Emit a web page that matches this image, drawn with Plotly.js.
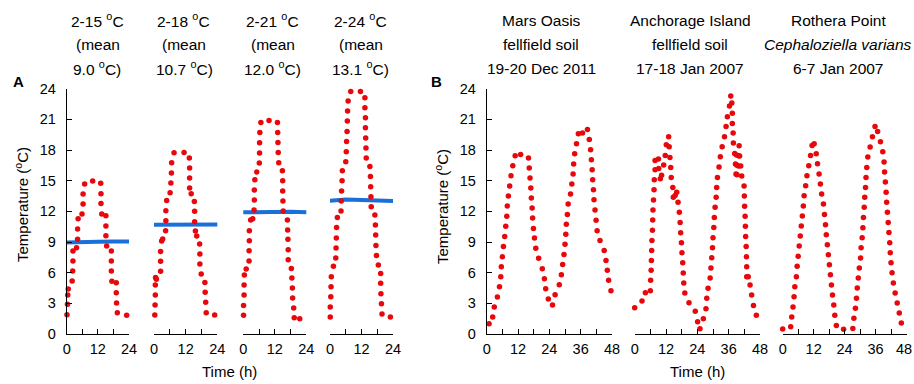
<!DOCTYPE html>
<html>
<head>
<meta charset="utf-8">
<script src="https://cdn.plot.ly/plotly-3.0.1.min.js"></script>
<style>html,body{margin:0;padding:0;background:#fff;}#chart{width:914px;height:384px;}</style>
</head>
<body>
<div id="chart"></div>
<script>
// ---------- Data (hours, temperature °C) ----------
const A1_h = [0.1,0.3,0.4,0.6,2.1,2.3,2.4,2.4,3.8,4.2,4.2,4.4,5.9,6.3,6.3,6.9,10.0,13.1,13.2,13.2,13.5,15.1,15.1,15.1,15.4,17.2,17.2,17.2,17.4,19.1,19.1,19.2,19.5,23.1];
const A1_t = [1.89,2.9,3.81,4.4,5.18,6.16,7.14,8.12,8.44,9.26,10.27,11.28,11.74,12.71,13.69,14.67,14.96,14.74,13.73,12.78,11.74,11.57,10.56,9.62,8.6,8.12,7.14,6.16,5.15,5.02,4.04,3.03,2.09,1.83];

const A2_h = [0.3,0.4,0.5,0.5,0.6,0.9,2.5,2.5,2.5,2.9,3.3,4.4,4.5,4.5,4.8,6.1,6.4,6.6,6.7,7.6,11.4,13.4,13.5,13.5,13.5,14.1,15.3,15.4,15.4,15.7,16.2,17.3,17.4,17.4,17.9,19.3,19.4,19.6,19.8,23.0];
const A2_t = [1.86,2.84,3.81,4.79,5.54,5.35,6.13,7.11,8.08,9.1,9.29,10.11,11.08,12.06,13.07,13.82,14.77,15.75,16.76,17.73,17.77,17.21,16.23,15.26,14.28,13.72,12.97,12.0,10.99,10.07,9.58,8.8,7.82,6.85,5.87,5.05,4.08,3.1,2.09,1.86];

const A3_h = [0.1,0.1,0.3,0.3,0.4,1.1,2.2,2.2,2.3,2.3,2.8,3.6,4.1,4.2,4.2,4.4,5.1,6.1,6.2,6.2,6.3,6.7,9.8,13.0,13.1,13.2,13.3,13.5,14.9,15.0,15.0,15.1,15.2,16.8,16.9,17.0,17.1,17.1,18.3,18.5,18.7,18.8,19.2,19.4,21.5];
const A3_t = [1.83,2.8,3.81,4.79,5.77,6.36,7.14,8.15,9.13,10.11,11.15,11.28,12.13,13.1,14.08,15.09,15.84,16.72,17.7,18.71,19.72,20.7,20.9,20.7,19.72,18.74,17.77,16.76,15.97,15.0,13.99,13.01,12.03,11.15,10.17,9.26,8.25,7.27,6.42,5.48,4.5,3.52,2.54,1.6,1.5];

const A4_h = [0.1,0.1,0.3,0.4,0.5,1.3,2.2,2.3,2.4,2.5,2.8,4.2,4.3,4.4,4.6,4.7,6.0,6.2,6.3,6.5,6.6,6.7,6.9,7.9,11.6,13.3,13.3,13.5,13.5,13.6,13.7,13.8,15.2,15.4,15.5,15.6,15.7,17.1,17.3,17.4,17.5,17.7,18.4,19.3,19.3,19.4,19.6,19.8,23.0];
const A4_t = [1.66,2.64,3.65,4.63,5.61,6.62,7.43,8.41,9.39,10.43,11.41,12.03,13.01,13.99,15.0,15.97,16.85,17.83,18.84,19.82,20.83,21.81,22.79,23.73,23.73,23.11,22.14,21.16,20.18,19.17,18.19,17.21,16.4,15.42,14.41,13.43,12.45,11.64,10.66,9.68,8.67,7.69,6.75,5.93,4.96,3.94,2.97,1.96,1.66];

// mean lines
const MEAN_h = [-0.3,6,12,18,24.5];
const A1_mean = [8.95,8.95,9.02,9.05,9.05];
const A2_mean = [10.7,10.72,10.74,10.73,10.72];
const A3_mean = [11.9,11.94,11.98,11.95,11.9];
const A4_mean = [13.02,13.15,13.1,13.05,13.0];

const B1_h = [0.9,2.3,2.9,4.1,4.9,5.4,5.6,6.0,6.4,6.9,7.3,7.7,7.9,8.3,8.8,9.3,10.0,10.9,13.0,16.0,16.3,16.6,16.9,17.1,17.4,17.6,17.9,18.3,18.8,19.9,21.3,22.1,22.6,23.6,25.2,26.2,27.8,28.6,29.1,29.6,30.0,30.3,30.5,30.9,31.2,32.1,32.6,33.1,33.3,33.7,34.4,35.1,36.7,38.6,39.3,39.8,40.1,40.4,40.6,40.9,41.1,41.5,41.9,42.3,43.4,45.0,45.7,46.2,46.7,47.6];
const B1_t = [1.01,1.66,2.64,3.62,4.63,5.61,6.59,7.56,8.57,9.55,10.53,11.51,12.52,13.5,14.47,15.49,16.46,17.44,17.57,17.21,16.23,15.26,14.28,13.3,12.32,11.34,10.33,9.39,8.38,7.4,6.39,5.41,4.43,3.42,2.84,3.85,4.82,5.8,6.81,7.79,8.77,9.75,10.73,11.7,12.71,13.69,14.67,15.65,16.63,17.64,18.61,19.59,19.66,20.02,19.04,18.03,17.05,16.07,15.09,14.12,13.14,12.13,11.12,10.11,9.16,8.18,7.2,6.23,5.25,4.24];

const B2_h = [0,2.8,4.1,6.0,6.1,6.3,6.4,6.5,6.6,6.8,
  6.9,7.0,7.2,7.4,7.5,7.8,7.8,9.1,9.2,9.8,
  10.3,11.1,11.7,12.1,13.0,13.2,13.5,13.8,14.0,14.6,
  14.8,15.5,16.1,16.6,17.1,17.4,17.6,17.9,18.1,18.4,
  18.6,18.8,19.2,20.8,23.2,24.1,25.0,26.3,27.3,27.6,
  28.1,28.9,29.2,29.5,29.8,30.0,30.3,30.5,30.8,31.2,
  31.4,31.7,32.3,32.8,33.5,34.4,35.0,35.5,36.3,36.8,
  37.2,37.4,37.4,37.7,37.8,38.3,39.0,40.0,39.8,40.2,
  38.6,39.2,39.7,40.6,38.8,39.2,41.0,41.9,42.0,42.1,
  42.3,42.4,42.5,42.7,42.8,42.9,42.9,43.5,44.2,44.8,
  45.5,46.6];
const B2_t = [2.58,3.23,4.04,4.24,5.25,6.23,7.2,8.18,9.16,10.14,
  11.15,12.13,13.1,14.12,15.09,16.07,16.98,17.11,16.2,15.19,
  15.52,16.53,17.47,18.52,19.3,18.32,17.28,16.3,15.32,14.34,
  13.37,13.56,13.86,12.88,11.9,10.92,9.91,8.93,7.95,6.98,
  5.97,4.99,4.01,3.06,2.22,1.21,0.52,1.5,2.48,3.49,
  4.47,5.48,6.45,7.47,8.44,9.42,10.43,11.41,12.39,13.37,
  14.34,15.32,16.33,17.34,18.32,19.3,20.31,21.26,22.3,23.28,
  22.59,21.61,20.6,19.66,18.68,17.67,17.51,18.42,17.44,17.41,
  16.63,16.5,16.43,16.43,15.65,15.58,15.45,14.47,13.5,12.49,
  11.51,10.53,9.55,8.57,7.56,6.59,5.61,5.61,4.79,3.81,
  2.8,1.83];

const B3_h = [0,3.1,3.5,4.0,4.4,4.7,5.3,5.6,6.0,6.4,
  6.8,7.2,7.6,8.0,8.3,8.9,9.4,10.1,10.8,11.4,
  12.2,13.0,13.5,14.1,14.6,15.1,15.8,16.2,16.6,16.9,
  17.3,17.7,18.1,18.5,18.9,19.3,19.8,20.2,20.8,23.6,
  27.2,27.6,28.2,28.6,28.9,29.3,29.7,30.2,30.4,30.8,
  31.1,31.3,31.6,31.8,32.1,32.3,32.6,33.0,33.9,34.8,
  35.8,36.8,37.9,38.8,39.3,39.5,39.8,40.1,40.3,40.6,
  40.9,41.2,41.5,41.7,42.0,42.4,42.9,43.6,44.4,45.2,
  46.0];
const B3_t = [0.49,0.72,1.66,2.64,3.65,4.63,5.61,6.62,7.6,8.61,
  9.58,10.56,11.54,12.52,13.53,14.51,15.49,16.46,17.47,18.45,
  18.61,17.64,16.66,15.65,14.67,13.69,12.71,11.7,10.69,9.71,
  8.74,7.76,6.78,5.8,4.79,3.81,2.84,1.83,0.82,0.46,
  0.55,1.53,2.51,3.49,4.5,5.48,6.45,7.43,8.44,9.42,
  10.4,11.41,12.39,13.37,14.34,15.32,16.3,17.31,18.29,19.3,
  20.31,19.82,18.81,17.83,16.82,15.84,14.87,13.86,12.88,11.9,
  10.92,9.94,8.93,7.95,6.98,6.0,4.99,4.01,3.03,2.05,
  1.08];

const Y_TICKS = [0,3,6,9,12,15,18,21,24];
const X24_MAJOR = [0,12,24];
const X24_MINOR = [6,18];
const X48_MAJOR = [0,12,24,36,48];
const X48_MINOR = [6,18,30,42];
// last panel: its final label "48" sits at the page edge, drawn right-aligned separately
const X48_MAJOR_LAST = [0,12,24,36];
const X48_MINOR_LAST = [6,18,30,42,48];
const LAST_LABEL = '48';

const TITLES_A = [
  ['2-15 <sup>o</sup>C','(mean','9.0 <sup>o</sup>C)'],
  ['2-18 <sup>o</sup>C','(mean','10.7 <sup>o</sup>C)'],
  ['2-21 <sup>o</sup>C','(mean','12.0 <sup>o</sup>C)'],
  ['2-24 <sup>o</sup>C','(mean','13.1 <sup>o</sup>C)']
];
const TITLES_B = [
  ['Mars Oasis','fellfield soil','19-20 Dec 2011'],
  ['Anchorage Island','fellfield soil','17-18 Jan 2007'],
  ['Rothera Point','<i>Cephaloziella varians</i>','6-7 Jan 2007']
];

// ---------- Layout geometry (pixels) ----------
const W = 914, H = 384;
const FONT = 'Liberation Sans, Arial, sans-serif';
const PX = [[66.7,129],[154,217.3],[243.3,306.3],[330,393],[486.7,612],[634.7,760],[782.7,906.5]];
const YB = 334, YT = 88.7;
const ydom = [(H-YB)/H, (H-YT)/H];
const RED = '#e8070b', BLUE = '#1a6fd9';
const TICKSIZE = 14.5;

const redSets = [[A1_h,A1_t],[A2_h,A2_t],[A3_h,A3_t],[A4_h,A4_t],[B1_h,B1_t],[B2_h,B2_t],[B3_h,B3_t]];
const means = [A1_mean,A2_mean,A3_mean,A4_mean];

const traces = [];
means.forEach((m,i)=>{
  traces.push({x:MEAN_h, y:m, mode:'lines', line:{color:BLUE,width:4},
    xaxis:'x'+(i===0?'':i+1), yaxis:'y'+(i===0?'':i+1), hoverinfo:'skip', showlegend:false});
});
redSets.forEach((s,i)=>{
  traces.push({x:s[0], y:s[1], mode:'markers', marker:{color:RED,size:5.5,line:{width:0}},
    cliponaxis:false, xaxis:'x'+(i===0?'':i+1), yaxis:'y'+(i===0?'':i+1), showlegend:false});
});

const layout = {
  width:W, height:H, margin:{l:0,r:0,t:0,b:0}, paper_bgcolor:'#fff', plot_bgcolor:'rgba(0,0,0,0)',
  font:{family:FONT,size:15,color:'#000'}, showlegend:false, annotations:[]
};
PX.forEach((p,i)=>{
  const n = i===0?'':i+1;
  const is48 = i>=4;
  const last = i===PX.length-1;
  const major = last ? X48_MAJOR_LAST : (is48 ? X48_MAJOR : X24_MAJOR);
  const minor = last ? X48_MINOR_LAST : (is48 ? X48_MINOR : X24_MINOR);
  layout['xaxis'+n] = {
    domain:[p[0]/W,p[1]/W], range:is48?[0,48]:[0,24], anchor:'y'+n,
    showline:true, linecolor:'#000', linewidth:1, ticks:'inside', ticklen:5, tickwidth:1, tickcolor:'#000',
    tickmode:'array', tickvals:major,
    minor:{tickmode:'array', tickvals:minor, ticks:'inside', ticklen:5, tickwidth:1, tickcolor:'#000', showgrid:false},
    showgrid:false, zeroline:false, tickfont:{size:TICKSIZE}, ticklabelstandoff:2, fixedrange:true
  };
  const vis = (i===0||i===4);
  layout['yaxis'+n] = {
    domain:ydom, range:[0,24], anchor:'x'+n,
    showline:vis, linecolor:'#000', linewidth:1, ticks:vis?'inside':'', ticklen:5, tickcolor:'#000',
    tickmode:'array', tickvals:Y_TICKS, showticklabels:vis, showgrid:false, zeroline:false,
    tickfont:{size:TICKSIZE}, ticklabelstandoff:7, fixedrange:true
  };
});

function ann(text,x,y,opts){
  layout.annotations.push(Object.assign({text:text, x:x/W, y:1-y/H, xref:'paper', yref:'paper',
    showarrow:false, xanchor:'center', yanchor:'middle', font:{size:15.5}}, opts||{}));
}
const AX = [[97.5,97.5,96.7],[183.3,184,184],[272.5,272.5,272.5],[360.8,360.8,360]];
TITLES_A.forEach((t,i)=>{ ann(t[0],AX[i][0],20); ann(t[1],AX[i][1],44); ann(t[2],AX[i][2],68); });
const BX = [541,690,838];
TITLES_B.forEach((t,i)=>{ ann(t[0],BX[i],20); ann(t[1],BX[i],44); ann(t[2],BX[i],68); });
ann('<b>A</b>',18,81,{font:{size:15}});
ann('<b>B</b>',436,81,{font:{size:15}});
ann('Temperature (<sup>o</sup>C)',21,205,{textangle:-90,font:{size:15}});
ann('Temperature (<sup>o</sup>C)',441,207,{textangle:-90,font:{size:15}});
ann('Time (h)',230,371,{font:{size:15}});
ann('Time (h)',697,371,{font:{size:15}});
// final "48" tick label of the last panel, kept inside the page
ann(LAST_LABEL,913.5,349,{xanchor:'right',font:{size:TICKSIZE}});

Plotly.newPlot('chart',traces,layout,{staticPlot:true});
</script>
</body>
</html>
